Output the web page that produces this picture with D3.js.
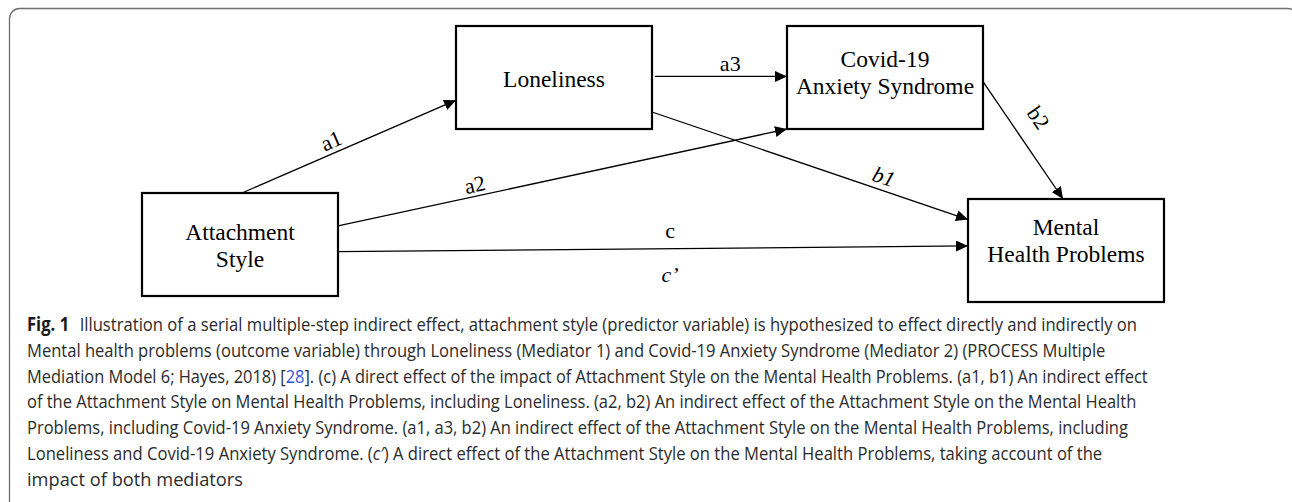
<!DOCTYPE html>
<html>
<head>
<meta charset="utf-8">
<script src="https://cdn.jsdelivr.net/npm/d3@7"></script>
<style>
  body { margin: 0; background: #fff; }
  svg { display: block; }
</style>
</head>
<body>
<svg id="fig" width="1292" height="502"></svg>
<script>
// ---- data ----
const nodeIds = ['attach', 'lonely', 'covid', 'mental'];
const nodeLabels = [['Attachment', 'Style'], ['Loneliness'], ['Covid-19', 'Anxiety Syndrome'], ['Mental', 'Health Problems']];

const edgeNames = ['a1', 'a2', 'a3', 'b1', 'b2', 'c'];
const edgeFrom = ['attach', 'attach', 'lonely', 'lonely', 'covid', 'attach'];
const edgeTo = ['lonely', 'covid', 'covid', 'mental', 'mental', 'mental'];

const labelEdge = ['a1', 'a2', 'a3', 'b1', 'b2', 'c', 'c'];
const labelText = ['a1', 'a2', 'a3', 'b1', 'b2', 'c', 'c\u2019'];
const labelItalic = [false, false, false, true, false, false, true];

// caption: each line is a list of [text, kind]
const captionLines = [
  [['Fig. 1', 'bold'], ['Illustration of a serial multiple-step indirect effect, attachment style (predictor variable) is hypothesized to effect directly and indirectly on', 'gap']],
  [['Mental health problems (outcome variable) through Loneliness (Mediator 1) and Covid-19 Anxiety Syndrome (Mediator 2) (PROCESS Multiple', '']],
  [['Mediation Model 6; Hayes, 2018) [', ''], ['28', 'link'], ['].  (c) A direct effect of the impact of Attachment Style on the Mental Health Problems. (a1, b1) An indirect effect', '']],
  [['of the Attachment Style on Mental Health Problems, including Loneliness. (a2, b2) An indirect effect of the Attachment Style on the Mental Health', '']],
  [['Problems, including Covid-19 Anxiety Syndrome. (a1, a3, b2) An indirect effect of the Attachment Style on the Mental Health Problems, including', '']],
  [['Loneliness and Covid-19 Anxiety Syndrome. (', ''], ['c\u2032', 'italic'], [') A direct effect of the Attachment Style on the Mental Health Problems, taking account of the', '']],
  [['impact of both mediators', '']]
];

// ---- layout ----
const boxW = 196, boxH = 103;
const nodePos = { attach: [142, 193], lonely: [456, 26], covid: [787, 26], mental: [968, 199] };
const firstBaseline = { attach: 47, lonely: 61, covid: 41, mental: 36 };
const lineGap = 27;
// [source fx, fy, target fx, fy, start gap]
const anchors = {
  a1: [0.51, 0, 0, 0.72, 0],
  a2: [1, 0.32, 0, 1, 0],
  a3: [1, 0.49, 0, 0.49, 3],
  b1: [1, 0.835, 0, 0.2, 0],
  b2: [1, 0.54, 0.485, 0, 0],
  c:  [1, 0.57, 0, 0.456, 0]
};
// [t along edge, offset from line, follow line angle]
const labelPlace = [
  [0.44, 5, true], [0.31, 4, true], [0.57, 5, false], [0.72, 6, true],
  [0.43, 18, true], [0.527, 11, false], [0.527, -33, false]
];
const captionX = 27, captionY0 = 330.7, captionStep = 25.9;
const captionRight = [1127, 1106, 1148, 1137, 1129, 1103, 243];

const svg = d3.select('#fig');

// frame
svg.append('rect')
  .attr('x', 9.5).attr('y', 8.5)
  .attr('width', 1288).attr('height', 520)
  .attr('rx', 10)
  .attr('fill', 'none')
  .attr('stroke', '#6e6e6e')
  .attr('stroke-width', 1.3);

svg.append('defs').append('marker')
  .attr('id', 'arrow')
  .attr('markerUnits', 'userSpaceOnUse')
  .attr('markerWidth', 12).attr('markerHeight', 11)
  .attr('refX', 12).attr('refY', 5.5)
  .attr('orient', 'auto')
  .append('path')
    .attr('d', 'M0,0 L12,5.5 L0,11 Z')
    .attr('fill', '#000');

function pt(id, fx, fy) {
  const p = nodePos[id];
  return [p[0] + fx * boxW, p[1] + fy * boxH];
}

const edges = edgeNames.map((name, i) => {
  const a = anchors[name];
  let s = pt(edgeFrom[i], a[0], a[1]);
  const t = pt(edgeTo[i], a[2], a[3]);
  const len = Math.hypot(t[0] - s[0], t[1] - s[1]);
  s = [s[0] + (t[0] - s[0]) / len * a[4], s[1] + (t[1] - s[1]) / len * a[4]];
  return { name, s, t };
});
const edgeByName = {};
edges.forEach(e => edgeByName[e.name] = e);

svg.append('g')
  .selectAll('line')
  .data(edges)
  .enter()
  .append('line')
    .attr('x1', d => d.s[0]).attr('y1', d => d.s[1])
    .attr('x2', d => d.t[0]).attr('y2', d => d.t[1])
    .attr('stroke', '#000')
    .attr('stroke-width', 1.3)
    .attr('marker-end', 'url(#arrow)');

// boxes
const nodes = nodeIds.map((id, i) => ({ id, lines: nodeLabels[i] }));
const boxes = svg.append('g')
  .selectAll('g')
  .data(nodes)
  .enter()
  .append('g')
    .attr('transform', d => `translate(${nodePos[d.id][0]},${nodePos[d.id][1]})`);

boxes.append('rect')
  .attr('width', boxW).attr('height', boxH)
  .attr('fill', '#fff')
  .attr('stroke', '#000')
  .attr('stroke-width', 2.2);

boxes.each(function(d) {
  d3.select(this).selectAll('text')
    .data(d.lines)
    .enter()
    .append('text')
      .attr('x', boxW / 2)
      .attr('y', (l, j) => firstBaseline[d.id] + j * lineGap)
      .attr('text-anchor', 'middle')
      .style('font-family', '"Liberation Serif", "Times New Roman", serif')
      .style('font-size', '23.5px')
      .attr('fill', '#000')
      .text(l => l);
});

// path labels
const labels = labelText.map((txt, i) => {
  const e = edgeByName[labelEdge[i]];
  const [t, off, follow] = labelPlace[i];
  const ang = follow ? Math.atan2(e.t[1] - e.s[1], e.t[0] - e.s[0]) : 0;
  const px = e.s[0] + t * (e.t[0] - e.s[0]) + off * Math.sin(ang);
  const py = e.s[1] + t * (e.t[1] - e.s[1]) - off * Math.cos(ang);
  return { txt, italic: labelItalic[i], x: px, y: py, deg: ang * 180 / Math.PI };
});

svg.append('g')
  .selectAll('text')
  .data(labels)
  .enter()
  .append('text')
    .attr('transform', d => `translate(${d.x},${d.y}) rotate(${d.deg})`)
    .attr('text-anchor', 'middle')
    .style('font-family', '"Liberation Serif", "Times New Roman", serif')
    .style('font-size', '22px')
    .style('font-style', d => d.italic ? 'italic' : 'normal')
    .attr('fill', '#000')
    .text(d => d.txt);

// caption
const cap = svg.append('g')
  .style('font-family', '"Open Sans", "Noto Sans", sans-serif')
  .style('font-size', '19px')
  .attr('fill', '#2b2b2b');

captionLines.forEach((segs, i) => {
  const y = captionY0 + i * captionStep;
  const txt = cap.append('text').attr('x', 0).attr('y', 0);
  segs.forEach(([s, kind]) => {
    const ts = txt.append('tspan').text(s);
    if (kind === 'bold') ts.style('font-weight', 'bold').attr('fill', '#1a1a1a');
    if (kind === 'gap') ts.attr('dx', 12);
    if (kind === 'link') ts.attr('fill', '#2f55d4');
    if (kind === 'italic') ts.style('font-style', 'italic');
  });
  const w = txt.node().getComputedTextLength();
  const sx = (captionRight[i] - captionX) / w;
  txt.attr('transform', `translate(${captionX},${y}) scale(${sx},1)`);
});
</script>
</body>
</html>
